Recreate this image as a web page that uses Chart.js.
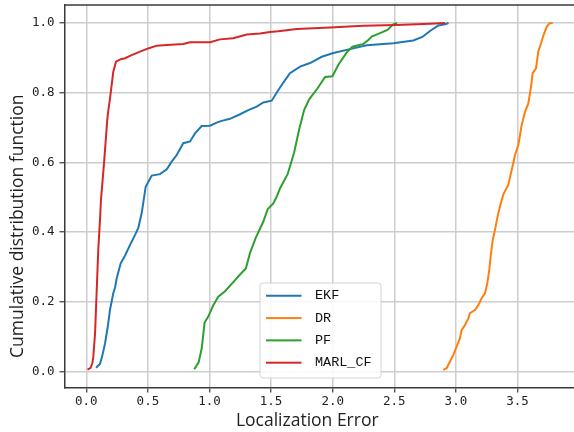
<!DOCTYPE html>
<html><head><meta charset="utf-8">
<script src="https://cdn.jsdelivr.net/npm/chart.js@4.4.1/dist/chart.umd.min.js"></script>
<style>html,body{margin:0;padding:0;background:#fff;overflow:hidden}</style>
</head><body>
<canvas id="c" width="574" height="432" style="display:block"></canvas>
<script>
// ---- data ----
const seriesNames = ['EKF', 'DR', 'PF', 'MARL_CF'];
const seriesColors = ['#1f77b4', '#ff7f0e', '#2ca02c', '#d62728'];

const ekfError = [0.079,0.111,0.130,0.152,0.175,0.192,0.219,0.233,0.247,0.279,0.314,0.355,0.395,0.422,0.450,0.482,0.531,0.598,0.653,0.693,0.734,0.787,0.842,0.882,0.937,1.004,1.058,1.099,1.166,1.248,1.315,1.383,1.437,1.505,1.545,1.599,1.653,1.735,1.816,1.911,2.005,2.140,2.276,2.492,2.654,2.728,2.790,2.857,2.912,2.940];
const ekfCdf   = [0.010,0.021,0.045,0.080,0.130,0.176,0.224,0.240,0.267,0.310,0.332,0.363,0.391,0.412,0.455,0.530,0.562,0.566,0.580,0.602,0.621,0.655,0.660,0.683,0.704,0.705,0.714,0.719,0.725,0.738,0.750,0.760,0.772,0.777,0.800,0.829,0.856,0.875,0.885,0.903,0.914,0.925,0.936,0.942,0.950,0.960,0.977,0.993,0.996,1.000];

const drError = [2.898,2.925,2.952,2.979,3.006,3.033,3.047,3.074,3.101,3.114,3.155,3.182,3.209,3.236,3.255,3.271,3.282,3.299,3.317,3.344,3.364,3.385,3.425,3.453,3.480,3.507,3.534,3.561,3.588,3.610,3.623,3.650,3.669,3.691,3.710,3.737,3.758,3.786];
const drCdf   = [0.004,0.009,0.028,0.047,0.071,0.095,0.119,0.133,0.152,0.167,0.176,0.190,0.210,0.224,0.253,0.291,0.329,0.377,0.406,0.454,0.482,0.508,0.535,0.578,0.621,0.650,0.707,0.745,0.769,0.817,0.856,0.870,0.918,0.942,0.964,0.989,0.999,1.000];

const pfError = [0.876,0.912,0.937,0.960,0.990,1.031,1.071,1.126,1.193,1.248,1.295,1.329,1.376,1.437,1.473,1.518,1.545,1.572,1.634,1.687,1.728,1.768,1.809,1.876,1.938,1.998,2.046,2.113,2.160,2.250,2.289,2.317,2.384,2.445,2.492,2.522];
const pfCdf   = [0.006,0.026,0.066,0.140,0.157,0.190,0.214,0.230,0.256,0.278,0.295,0.340,0.384,0.430,0.466,0.482,0.501,0.525,0.566,0.628,0.695,0.750,0.781,0.812,0.845,0.847,0.880,0.915,0.932,0.940,0.951,0.961,0.971,0.980,0.996,1.000];

const marlError = [0.010,0.035,0.049,0.057,0.071,0.097,0.111,0.119,0.146,0.170,0.179,0.192,0.219,0.241,0.279,0.314,0.368,0.436,0.503,0.571,0.653,0.787,0.842,1.004,1.085,1.193,1.302,1.410,1.491,1.558,1.708,1.978,2.248,2.519,2.790,2.912];
const marlCdf   = [0.005,0.010,0.023,0.042,0.109,0.348,0.434,0.492,0.607,0.722,0.750,0.782,0.860,0.889,0.896,0.899,0.908,0.918,0.927,0.935,0.937,0.940,0.945,0.945,0.953,0.956,0.967,0.970,0.974,0.976,0.983,0.987,0.992,0.994,0.998,1.000];

const xTicks = [0.0, 0.5, 1.0, 1.5, 2.0, 2.5, 3.0, 3.5];
const yTicks = [0.0, 0.2, 0.4, 0.6, 0.8, 1.0];
const xLabel = 'Localization Error';
const yLabel = 'Cumulative distribution function';

const allErrors = [ekfError, drError, pfError, marlError];
const allCdf = [ekfCdf, drCdf, pfCdf, marlCdf];

// legend handle: a short line image
function handle(color) {
  const c = document.createElement('canvas');
  c.width = 42; c.height = 4;
  const g = c.getContext('2d');
  g.strokeStyle = color; g.lineWidth = 2;
  g.beginPath(); g.moveTo(0, 2); g.lineTo(35, 2); g.stroke();
  return c;
}

const datasets = seriesNames.map((name, i) => ({
  label: name,
  data: allErrors[i].map((x, j) => ({x: x, y: allCdf[i][j]})),
  borderColor: seriesColors[i],
  backgroundColor: seriesColors[i],
  borderWidth: 2,
  pointRadius: 0,
  pointHoverRadius: 0,
  pointStyle: handle(seriesColors[i]),
  tension: 0,
  fill: false,
  order: seriesNames.length - 1 - i
}));

const tickFont = {family: 'DejaVu Sans Mono', size: 12.5};
const titleFont = {family: 'Open Sans', size: 17.5, lineHeight: 1.2};
const EXTEND = 20; // plot area continues past the right edge (cropped figure)

const layoutTweaks = {
  id: 'layoutTweaks',
  beforeLayout(chart) {
    const lg = chart.legend;
    if (lg && !lg._z1) {
      lg._layers = function () { return [{z: 1, draw: (ca) => lg.draw(ca)}]; };
      lg._z1 = true;
    }
  },
  afterLayout(chart) {
    // extend plot area beyond the canvas on the right
    const ca = chart.chartArea;
    const xs = chart.scales.x;
    if (xs && ca.right < 574 + EXTEND) {
      ca.right += EXTEND; ca.width += EXTEND;
      xs.right += EXTEND; xs.width += EXTEND;
      xs.configure();
    }
    const lg = chart.legend;
    if (lg) {
      const w = lg.width, h = lg.height;
      lg.left = 257.9; lg.top = 280.2;
      lg.right = lg.left + w; lg.bottom = lg.top + h;
    }
    const shift = (s, dx, dy) => {
      if (!s || s._shifted) return;
      const orig = s.drawTitle.bind(s);
      s.drawTitle = function () { const ctx = this.ctx; ctx.save(); ctx.translate(dx, dy); orig(); ctx.restore(); };
      s._shifted = true;
    };
    shift(chart.scales.x, -12 - EXTEND / 2, 0);
    shift(chart.scales.y, 0, 30);
  },
  afterDatasetsDraw(chart) {
    const ctx = chart.ctx;
    const a = chart.chartArea;
    ctx.save();
    // top spine
    ctx.strokeStyle = '#3a3a3a'; ctx.lineWidth = 1.5;
    ctx.beginPath(); ctx.moveTo(a.left, a.top); ctx.lineTo(a.right, a.top); ctx.stroke();
    // legend frame
    const lg = chart.legend;
    const x = lg.left + 2.1, y = lg.top + 2.8, w = 121, h = 95, r = 3;
    ctx.beginPath();
    ctx.moveTo(x + r, y); ctx.lineTo(x + w - r, y); ctx.arcTo(x + w, y, x + w, y + r, r);
    ctx.lineTo(x + w, y + h - r); ctx.arcTo(x + w, y + h, x + w - r, y + h, r);
    ctx.lineTo(x + r, y + h); ctx.arcTo(x, y + h, x, y + h - r, r);
    ctx.lineTo(x, y + r); ctx.arcTo(x, y, x + r, y, r); ctx.closePath();
    ctx.fillStyle = 'rgba(255,255,255,0.85)'; ctx.fill();
    ctx.strokeStyle = '#d4d4d4'; ctx.lineWidth = 1; ctx.stroke();
    ctx.restore();
  }
};

new Chart(document.getElementById('c'), {
  type: 'line',
  data: {datasets: datasets},
  plugins: [layoutTweaks],
  options: {
    responsive: false,
    devicePixelRatio: 1,
    animation: false,
    layout: {padding: {top: 5, right: 0, bottom: 0, left: 0}},
    plugins: {
      tooltip: {enabled: false},
      legend: {
        position: 'chartArea',
        align: 'start',
        labels: {
          usePointStyle: true,
          pointStyleWidth: 41.5,
          boxHeight: 13.5,
          padding: 8.8,
          color: '#111',
          font: {family: 'Liberation Mono', size: 13.5},
          sort: (a, b) => a.datasetIndex - b.datasetIndex
        }
      }
    },
    scales: {
      x: {
        type: 'linear',
        min: -0.177, max: 4.121,
        afterBuildTicks: (s) => { s.ticks = xTicks.map(v => ({value: v})); },
        afterFit: (s) => { s.height = 44.5; s.paddingLeft = 0; s.paddingRight = 0; },
        ticks: {callback: (v) => Number(v).toFixed(1), font: tickFont, color: '#222', padding: 2, maxRotation: 0, autoSkip: false},
        grid: {color: '#cdcdcd', lineWidth: 1.5, drawTicks: true, tickLength: 5, tickColor: '#3a3a3a', tickWidth: 1.2},
        border: {display: true, color: '#3a3a3a', width: 1.5},
        title: {display: true, text: xLabel, color: '#222', font: titleFont, padding: {top: 0, bottom: 0.5}}
      },
      y: {
        type: 'linear',
        min: -0.0465, max: 1.0517,
        afterBuildTicks: (s) => { s.ticks = yTicks.map(v => ({value: v})); },
        afterFit: (s) => { s.width = 64.5; s.paddingTop = 0; s.paddingBottom = 0; },
        ticks: {callback: (v) => Number(v).toFixed(1), font: tickFont, color: '#222', padding: 5, autoSkip: false},
        grid: {color: '#cdcdcd', lineWidth: 1.5, drawTicks: true, tickLength: 5, tickColor: '#3a3a3a', tickWidth: 1.2},
        border: {display: true, color: '#3a3a3a', width: 1.5},
        title: {display: true, text: yLabel, color: '#222', font: titleFont, padding: {top: 8, bottom: 0}}
      }
    }
  }
});
</script>
</body></html>
